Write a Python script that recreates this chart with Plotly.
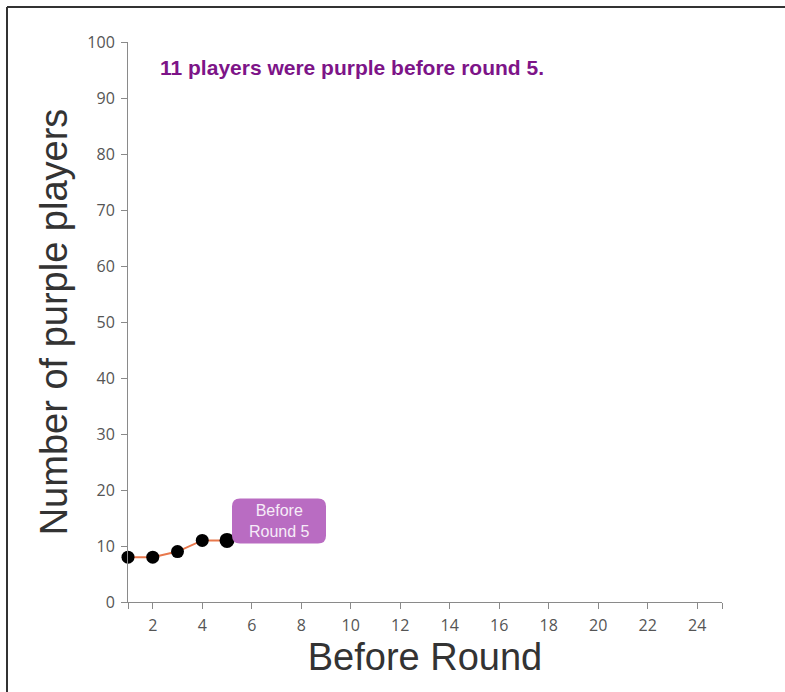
import plotly.graph_objects as go

# Purple-player counts recorded before each round
rounds = [1, 2, 3, 4, 5]
purple_counts = [8, 8, 9, 11, 11]

x_ticks = [1] + list(range(2, 25, 2)) + [25]
x_tick_text = [""] + [str(v) for v in range(2, 25, 2)] + [""]
y_ticks = list(range(0, 101, 10))

W, H = 785, 692
M_L, M_R, M_T, M_B = 128, 63, 42, 90
plot_w = W - M_L - M_R
plot_h = H - M_T - M_B

line_col = "#e8784d"
axis_col = "#8a8a8a"
label_fill = "#b96cc2"
title_col = "#7d1488"

fig = go.Figure()

fig.add_trace(go.Scatter(
    x=rounds, y=purple_counts,
    mode="lines+markers",
    line=dict(color=line_col, width=2),
    marker=dict(color="black", opacity=1, size=[13, 13, 13, 13, 15],
                line=dict(width=0)),
    cliponaxis=False,
    hoverinfo="x+y",
    showlegend=False,
))

# rounded label box anchored at the latest point (pixel offsets)
last_x, last_y = rounds[-1], purple_counts[-1]
bx0, bx1, by0, by1, r = 5, 99, -3, 42, 8
box_path = (
    f"M {bx0 + r},{by0} L {bx1 - r},{by0} Q {bx1},{by0} {bx1},{by0 + r} "
    f"L {bx1},{by1 - r} Q {bx1},{by1} {bx1 - r},{by1} "
    f"L {bx0 + r},{by1} Q {bx0},{by1} {bx0},{by1 - r} "
    f"L {bx0},{by0 + r} Q {bx0},{by0} {bx0 + r},{by0} Z"
)
fig.add_shape(
    type="path", path=box_path,
    xref="x", yref="y", xsizemode="pixel", ysizemode="pixel",
    xanchor=last_x, yanchor=last_y,
    fillcolor=label_fill, line=dict(width=0), layer="above",
)
fig.add_annotation(
    x=last_x, y=last_y, xref="x", yref="y",
    text=f"Before<br>Round {last_x}",
    showarrow=False,
    xanchor="center", yanchor="middle",
    xshift=(bx0 + bx1) / 2, yshift=(by0 + by1) / 2,
    font=dict(family="Liberation Sans, Arial, sans-serif", size=16, color="#f6ecf8"),
)

# headline sentence
fig.add_annotation(
    x=(352 - M_L) / plot_w, y=(H - 68 - M_B) / plot_h, xref="paper", yref="paper",
    text=f"<b>{purple_counts[-1]} players were purple before round {last_x}.</b>",
    showarrow=False, xanchor="center", yanchor="middle",
    font=dict(family="Liberation Sans, Arial, sans-serif", size=21, color=title_col),
)

# outer frame lines (left and top edges)
fx = (7 - M_L) / plot_w
fy = 1 + (M_T - 7) / plot_h
fig.add_shape(type="line", xref="paper", yref="paper",
              x0=fx, x1=fx, y0=fy, y1=-M_B / plot_h - 0.05,
              line=dict(color="#333333", width=2))
fig.add_shape(type="line", xref="paper", yref="paper",
              x0=fx, x1=1 + M_R / plot_w + 0.05, y0=fy, y1=fy,
              line=dict(color="#333333", width=2))

tick_font = dict(family="Open Sans, DejaVu Sans, sans-serif", size=16, color="#555555")
title_font = dict(family="Liberation Sans, Arial, sans-serif", size=38, color="#333333")

fig.update_xaxes(
    range=[1, 25], tickmode="array", tickvals=x_ticks, ticktext=x_tick_text,
    showline=True, linecolor=axis_col, linewidth=1,
    ticks="outside", ticklen=6, tickcolor=axis_col, ticklabelstandoff=3,
    showgrid=False, zeroline=False, tickfont=tick_font,
    title=dict(text="Before Round", font=title_font, standoff=6),
)
fig.update_yaxes(
    range=[0, 100], tickmode="array", tickvals=y_ticks,
    showline=True, linecolor=axis_col, linewidth=1,
    ticks="outside", ticklen=6, tickcolor=axis_col, ticklabelstandoff=3,
    showgrid=False, zeroline=False, tickfont=tick_font,
    title=dict(text="Number of purple players", font=title_font, standoff=8),
)

fig.update_layout(
    width=W, height=H,
    margin=dict(l=M_L, r=M_R, t=M_T, b=M_B),
    plot_bgcolor="white", paper_bgcolor="white",
)

fig.write_html("out.html")
